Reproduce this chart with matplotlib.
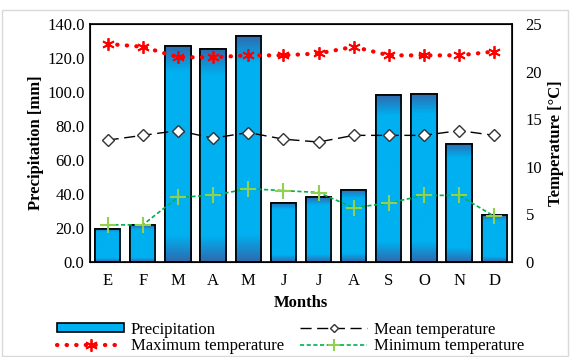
import numpy as np
import matplotlib
matplotlib.use("Agg")
import matplotlib.pyplot as plt
from matplotlib.lines import Line2D
from matplotlib.patches import Patch, Rectangle
from matplotlib.colors import LinearSegmentedColormap

plt.rcParams['font.family'] = ['Liberation Serif', 'DejaVu Serif']

months = ['E', 'F', 'M', 'A', 'M', 'J', 'J', 'A', 'S', 'O', 'N', 'D']
precipitation = [19.5, 21.5, 127.0, 125.0, 133.0, 35.0, 38.0, 42.5, 98.0, 99.0, 69.5, 27.5]
t_max = [22.9, 22.6, 21.5, 21.5, 21.7, 21.7, 21.9, 22.6, 21.7, 21.7, 21.7, 22.1]
t_mean = [12.8, 13.3, 13.8, 13.0, 13.6, 12.9, 12.6, 13.3, 13.3, 13.3, 13.8, 13.3]
t_min = [3.9, 3.9, 6.8, 7.0, 7.7, 7.5, 7.3, 5.7, 6.2, 7.0, 7.0, 4.8]

light = '#00B0F0'
dark = '#2E6AAE'

fig = plt.figure(figsize=(5.7, 3.57), dpi=100)
ax = fig.add_axes([0.158, 0.266, 0.74, 0.667])
x = np.arange(len(months))

bars = ax.bar(x, precipitation, width=0.72, color=light, edgecolor='black', linewidth=1.2, zorder=2)

# gradiente: oscuro en los extremos de cada barra
cmap = LinearSegmentedColormap.from_list('g', [(0, dark), (0.12, light), (0.88, light), (1, dark)])
grad = np.linspace(0, 1, 256).reshape(-1, 1)
for b in bars:
    x0, w, h = b.get_x(), b.get_width(), b.get_height()
    im = ax.imshow(grad, cmap=cmap, aspect='auto', extent=[x0, x0 + w, 0, h],
                   origin='lower', zorder=2.1)
    im.set_clip_path(b)
    ax.add_patch(Rectangle((x0, 0), w, h, fill=False, edgecolor='black', linewidth=1.2, zorder=2.2))

ax.set_xlim(-0.5, len(months) - 0.5)
ax.set_ylim(0, 140)
ax.set_yticks(np.arange(0, 141, 20))
ax.set_yticklabels([f'{v:.1f}' for v in np.arange(0, 141, 20)], fontsize=12)
ax.set_xticks(x)
ax.set_xticklabels(months, fontsize=12)
ax.tick_params(length=0, pad=8)
ax.tick_params(axis='y', pad=4)
ax.set_ylabel('Precipitation [mm]', fontsize=12, fontweight='bold', labelpad=2)
ax.set_xlabel('Months', fontsize=12, fontweight='bold', labelpad=4)
for s in ax.spines.values():
    s.set_linewidth(1.2)

ax2 = ax.twinx()
ax2.set_ylim(0, 25)
ax2.set_yticks(np.arange(0, 26, 5))
ax2.tick_params(length=0, labelsize=12, pad=10)
ax2.set_ylabel('Temperature [°C]', fontsize=12, fontweight='bold', labelpad=4)

ax2.plot(x, t_max, color='red', linestyle=(0, (0.1, 2.2)), linewidth=3, dash_capstyle='round',
         marker=(6, 2, 0), markersize=9, markeredgewidth=1.3, markeredgecolor='red', zorder=5)
ax2.plot(x, t_mean, color='black', linestyle=(0, (8, 4)), linewidth=1.0,
         marker='D', markersize=6, markerfacecolor='white', markeredgecolor='#333333', markeredgewidth=1.0, zorder=5)
ax2.plot(x, t_min, color='#00B050', linestyle=(0, (2.5, 1.5)), linewidth=1.2,
         marker='+', markersize=11, markeredgecolor='#92D050', markeredgewidth=1.5, zorder=5)

h_prec = Patch(facecolor=light, edgecolor='black', linewidth=1.2)
h_mean = Line2D([], [], color='black', linestyle=(0, (8, 4)), linewidth=1.0, marker='D', markersize=4,
                markerfacecolor='white', markeredgecolor='#333333')
h_max = Line2D([], [], color='red', linestyle=(0, (0.1, 2.2)), linewidth=3, dash_capstyle='round',
               marker=(6, 2, 0), markersize=9, markeredgewidth=1.3)
h_min = Line2D([], [], color='#00B050', linestyle=(0, (2.5, 1.5)), linewidth=1.2, marker='+', markersize=9,
               markeredgecolor='#92D050', markeredgewidth=1.5)
# orden por columnas: col1 = Precipitation / Maximum, col2 = Mean / Minimum
fig.legend([h_prec, h_max, h_mean, h_min],
           ['Precipitation', 'Maximum temperature', 'Mean temperature', 'Minimum temperature'],
           loc='lower center', bbox_to_anchor=(0.51, -0.035), ncol=2, frameon=False,
           fontsize=12, handlelength=4.0, handleheight=0.5, columnspacing=1.0, labelspacing=0.05,
           handletextpad=0.4)

fig.add_artist(Rectangle((0.003, 0.003), 0.994, 0.97, transform=fig.transFigure, fill=False,
                         edgecolor='#d9d9d9', linewidth=1))

fig.savefig('out.png', dpi=100)
